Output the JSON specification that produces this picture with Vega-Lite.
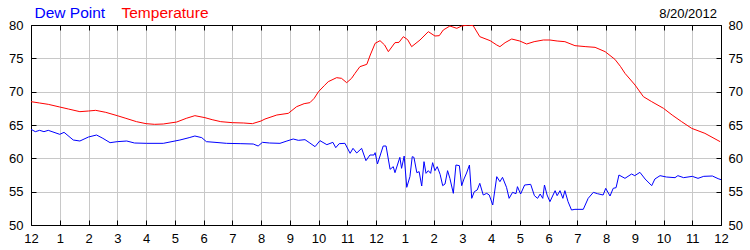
{
  "$schema": "https://vega.github.io/schema/vega-lite/v6.json",
  "width": 690,
  "height": 200,
  "autosize": "none",
  "padding": {"left": 31, "top": 25, "right": 29, "bottom": 25},
  "background": "white",
  "config": {
    "view": {"stroke": null},
    "font": "Liberation Sans",
    "axis": {
      "domainColor": "#000000",
      "domainWidth": 1,
      "tickColor": "#000000",
      "tickSize": -5,
      "tickWidth": 1,
      "labelColor": "#000000",
      "labelFont": "Liberation Sans",
      "labelFontSize": 13,
      "gridColor": "#c8c8c8",
      "gridWidth": 1,
      "gridOpacity": 1,
      "title": null
    },
    "legend": {
      "orient": "none",
      "legendX": -12,
      "legendY": -20,
      "direction": "horizontal",
      "symbolSize": 0,
      "symbolStrokeWidth": 0,
      "symbolOpacity": 0,
      "labelOffset": 0,
      "labelFontSize": 15.5,
      "labelFont": "Liberation Sans",
      "columnPadding": 0,
      "padding": 0,
      "labelLimit": 0
    }
  },
  "title": {
    "text": "8/20/2012",
    "anchor": "end",
    "frame": "group",
    "fontSize": 13,
    "fontWeight": "normal",
    "font": "Liberation Sans",
    "color": "#000000",
    "baseline": "alphabetic",
    "offset": 8,
    "dx": -4,
    "dy": 34
  },
  "data": {
    "values": [
      {"h": 0.0, "series": "Temperature", "v": 68.5},
      {"h": 0.3, "series": "Temperature", "v": 68.3},
      {"h": 0.6, "series": "Temperature", "v": 68.1},
      {"h": 1.0, "series": "Temperature", "v": 67.7},
      {"h": 1.3, "series": "Temperature", "v": 67.4},
      {"h": 1.7, "series": "Temperature", "v": 67.0},
      {"h": 2.0, "series": "Temperature", "v": 67.1},
      {"h": 2.25, "series": "Temperature", "v": 67.2},
      {"h": 2.6, "series": "Temperature", "v": 66.9},
      {"h": 3.0, "series": "Temperature", "v": 66.4},
      {"h": 3.3, "series": "Temperature", "v": 66.0},
      {"h": 3.67, "series": "Temperature", "v": 65.5},
      {"h": 4.0, "series": "Temperature", "v": 65.2},
      {"h": 4.3, "series": "Temperature", "v": 65.1},
      {"h": 4.6, "series": "Temperature", "v": 65.15},
      {"h": 5.07, "series": "Temperature", "v": 65.45},
      {"h": 5.4, "series": "Temperature", "v": 66.0},
      {"h": 5.7, "series": "Temperature", "v": 66.4},
      {"h": 6.05, "series": "Temperature", "v": 66.1},
      {"h": 6.3, "series": "Temperature", "v": 65.8},
      {"h": 6.6, "series": "Temperature", "v": 65.5},
      {"h": 7.0, "series": "Temperature", "v": 65.35},
      {"h": 7.4, "series": "Temperature", "v": 65.3},
      {"h": 7.7, "series": "Temperature", "v": 65.2},
      {"h": 8.0, "series": "Temperature", "v": 65.6},
      {"h": 8.14, "series": "Temperature", "v": 65.9},
      {"h": 8.55, "series": "Temperature", "v": 66.5},
      {"h": 8.95, "series": "Temperature", "v": 66.75},
      {"h": 9.24, "series": "Temperature", "v": 67.75},
      {"h": 9.5, "series": "Temperature", "v": 68.2},
      {"h": 9.7, "series": "Temperature", "v": 68.35},
      {"h": 9.85, "series": "Temperature", "v": 69.0},
      {"h": 10.0, "series": "Temperature", "v": 70.0},
      {"h": 10.2, "series": "Temperature", "v": 70.9},
      {"h": 10.34, "series": "Temperature", "v": 71.5},
      {"h": 10.63, "series": "Temperature", "v": 72.1},
      {"h": 10.8, "series": "Temperature", "v": 72.0},
      {"h": 10.98, "series": "Temperature", "v": 71.35},
      {"h": 11.15, "series": "Temperature", "v": 72.0},
      {"h": 11.27, "series": "Temperature", "v": 72.75},
      {"h": 11.44, "series": "Temperature", "v": 73.75},
      {"h": 11.68, "series": "Temperature", "v": 74.1},
      {"h": 11.8, "series": "Temperature", "v": 75.5},
      {"h": 11.97, "series": "Temperature", "v": 77.25},
      {"h": 12.14, "series": "Temperature", "v": 77.65},
      {"h": 12.3, "series": "Temperature", "v": 77.0},
      {"h": 12.43, "series": "Temperature", "v": 76.0},
      {"h": 12.66, "series": "Temperature", "v": 77.35},
      {"h": 12.8, "series": "Temperature", "v": 77.4},
      {"h": 12.95, "series": "Temperature", "v": 78.25},
      {"h": 13.1, "series": "Temperature", "v": 77.8},
      {"h": 13.24, "series": "Temperature", "v": 76.75},
      {"h": 13.53, "series": "Temperature", "v": 77.75},
      {"h": 13.82, "series": "Temperature", "v": 79.0},
      {"h": 14.05, "series": "Temperature", "v": 78.35},
      {"h": 14.2, "series": "Temperature", "v": 78.4},
      {"h": 14.34, "series": "Temperature", "v": 79.25},
      {"h": 14.57, "series": "Temperature", "v": 79.85},
      {"h": 14.81, "series": "Temperature", "v": 79.5},
      {"h": 14.98, "series": "Temperature", "v": 79.85},
      {"h": 15.2, "series": "Temperature", "v": 80.0},
      {"h": 15.38, "series": "Temperature", "v": 79.9},
      {"h": 15.61, "series": "Temperature", "v": 78.25},
      {"h": 15.97, "series": "Temperature", "v": 77.65},
      {"h": 16.2, "series": "Temperature", "v": 77.0},
      {"h": 16.31, "series": "Temperature", "v": 76.75},
      {"h": 16.49, "series": "Temperature", "v": 77.35},
      {"h": 16.72, "series": "Temperature", "v": 77.9},
      {"h": 17.0, "series": "Temperature", "v": 77.6},
      {"h": 17.24, "series": "Temperature", "v": 77.15},
      {"h": 17.5, "series": "Temperature", "v": 77.5},
      {"h": 17.82, "series": "Temperature", "v": 77.75},
      {"h": 18.05, "series": "Temperature", "v": 77.75},
      {"h": 18.3, "series": "Temperature", "v": 77.6},
      {"h": 18.57, "series": "Temperature", "v": 77.5},
      {"h": 18.92, "series": "Temperature", "v": 76.9},
      {"h": 19.3, "series": "Temperature", "v": 76.75},
      {"h": 19.62, "series": "Temperature", "v": 76.65},
      {"h": 19.97, "series": "Temperature", "v": 76.0},
      {"h": 20.31, "series": "Temperature", "v": 74.85},
      {"h": 20.5, "series": "Temperature", "v": 73.8},
      {"h": 20.66, "series": "Temperature", "v": 72.75},
      {"h": 21.01, "series": "Temperature", "v": 71.0},
      {"h": 21.3, "series": "Temperature", "v": 69.25},
      {"h": 21.59, "series": "Temperature", "v": 68.5},
      {"h": 22.0, "series": "Temperature", "v": 67.5},
      {"h": 22.3, "series": "Temperature", "v": 66.5},
      {"h": 22.63, "series": "Temperature", "v": 65.5},
      {"h": 22.98, "series": "Temperature", "v": 64.5},
      {"h": 23.44, "series": "Temperature", "v": 63.75},
      {"h": 23.97, "series": "Temperature", "v": 62.5},
      {"h": 0.0, "series": "Dew Point", "v": 64.35},
      {"h": 0.15, "series": "Dew Point", "v": 64.0},
      {"h": 0.3, "series": "Dew Point", "v": 64.2},
      {"h": 0.45, "series": "Dew Point", "v": 64.0},
      {"h": 0.6, "series": "Dew Point", "v": 64.2},
      {"h": 0.8, "series": "Dew Point", "v": 63.9},
      {"h": 1.0, "series": "Dew Point", "v": 63.6},
      {"h": 1.15, "series": "Dew Point", "v": 63.9},
      {"h": 1.47, "series": "Dew Point", "v": 62.75},
      {"h": 1.7, "series": "Dew Point", "v": 62.6},
      {"h": 2.0, "series": "Dew Point", "v": 63.2},
      {"h": 2.28, "series": "Dew Point", "v": 63.5},
      {"h": 2.5, "series": "Dew Point", "v": 63.0},
      {"h": 2.75, "series": "Dew Point", "v": 62.35},
      {"h": 3.0, "series": "Dew Point", "v": 62.5},
      {"h": 3.33, "series": "Dew Point", "v": 62.6},
      {"h": 3.6, "series": "Dew Point", "v": 62.3},
      {"h": 4.02, "series": "Dew Point", "v": 62.25},
      {"h": 4.6, "series": "Dew Point", "v": 62.25},
      {"h": 5.18, "series": "Dew Point", "v": 62.75},
      {"h": 5.5, "series": "Dew Point", "v": 63.1},
      {"h": 5.7, "series": "Dew Point", "v": 63.35},
      {"h": 5.94, "series": "Dew Point", "v": 63.1},
      {"h": 6.1, "series": "Dew Point", "v": 62.5},
      {"h": 6.4, "series": "Dew Point", "v": 62.4},
      {"h": 6.8, "series": "Dew Point", "v": 62.25},
      {"h": 7.3, "series": "Dew Point", "v": 62.2},
      {"h": 7.73, "series": "Dew Point", "v": 62.15},
      {"h": 7.9, "series": "Dew Point", "v": 61.85},
      {"h": 8.05, "series": "Dew Point", "v": 62.4},
      {"h": 8.3, "series": "Dew Point", "v": 62.3},
      {"h": 8.66, "series": "Dew Point", "v": 62.25},
      {"h": 8.9, "series": "Dew Point", "v": 62.6},
      {"h": 9.12, "series": "Dew Point", "v": 62.9},
      {"h": 9.3, "series": "Dew Point", "v": 62.7},
      {"h": 9.53, "series": "Dew Point", "v": 62.8},
      {"h": 9.7, "series": "Dew Point", "v": 62.3},
      {"h": 9.88, "series": "Dew Point", "v": 61.75},
      {"h": 10.05, "series": "Dew Point", "v": 62.65},
      {"h": 10.29, "series": "Dew Point", "v": 62.05},
      {"h": 10.5, "series": "Dew Point", "v": 62.4},
      {"h": 10.6, "series": "Dew Point", "v": 61.6},
      {"h": 10.72, "series": "Dew Point", "v": 62.2},
      {"h": 10.92, "series": "Dew Point", "v": 62.25},
      {"h": 11.1, "series": "Dew Point", "v": 60.75},
      {"h": 11.2, "series": "Dew Point", "v": 61.5},
      {"h": 11.33, "series": "Dew Point", "v": 60.8},
      {"h": 11.5, "series": "Dew Point", "v": 61.5},
      {"h": 11.65, "series": "Dew Point", "v": 59.65},
      {"h": 11.79, "series": "Dew Point", "v": 60.5},
      {"h": 11.93, "series": "Dew Point", "v": 60.5},
      {"h": 11.97, "series": "Dew Point", "v": 60.85},
      {"h": 12.05, "series": "Dew Point", "v": 59.15},
      {"h": 12.25, "series": "Dew Point", "v": 61.85},
      {"h": 12.35, "series": "Dew Point", "v": 61.85},
      {"h": 12.49, "series": "Dew Point", "v": 58.35},
      {"h": 12.6, "series": "Dew Point", "v": 58.75},
      {"h": 12.66, "series": "Dew Point", "v": 57.85},
      {"h": 12.83, "series": "Dew Point", "v": 60.15},
      {"h": 12.89, "series": "Dew Point", "v": 58.5},
      {"h": 12.98, "series": "Dew Point", "v": 60.35},
      {"h": 13.07, "series": "Dew Point", "v": 55.65},
      {"h": 13.18, "series": "Dew Point", "v": 57.25},
      {"h": 13.26, "series": "Dew Point", "v": 60.25},
      {"h": 13.32, "series": "Dew Point", "v": 60.15},
      {"h": 13.42, "series": "Dew Point", "v": 57.85},
      {"h": 13.5, "series": "Dew Point", "v": 58.0},
      {"h": 13.59, "series": "Dew Point", "v": 55.85},
      {"h": 13.67, "series": "Dew Point", "v": 59.5},
      {"h": 13.74, "series": "Dew Point", "v": 57.75},
      {"h": 13.82, "series": "Dew Point", "v": 58.15},
      {"h": 13.9, "series": "Dew Point", "v": 57.75},
      {"h": 13.97, "series": "Dew Point", "v": 59.35},
      {"h": 14.05, "series": "Dew Point", "v": 58.15},
      {"h": 14.13, "series": "Dew Point", "v": 58.75},
      {"h": 14.23, "series": "Dew Point", "v": 57.6},
      {"h": 14.32, "series": "Dew Point", "v": 55.9},
      {"h": 14.4, "series": "Dew Point", "v": 56.15},
      {"h": 14.49, "series": "Dew Point", "v": 58.15},
      {"h": 14.57, "series": "Dew Point", "v": 57.0},
      {"h": 14.69, "series": "Dew Point", "v": 54.75},
      {"h": 14.78, "series": "Dew Point", "v": 59.0},
      {"h": 14.9, "series": "Dew Point", "v": 58.9},
      {"h": 14.98, "series": "Dew Point", "v": 55.9},
      {"h": 15.06, "series": "Dew Point", "v": 56.9},
      {"h": 15.15, "series": "Dew Point", "v": 57.8},
      {"h": 15.25, "series": "Dew Point", "v": 59.0},
      {"h": 15.33, "series": "Dew Point", "v": 54.0},
      {"h": 15.42, "series": "Dew Point", "v": 55.0},
      {"h": 15.52, "series": "Dew Point", "v": 55.25},
      {"h": 15.61, "series": "Dew Point", "v": 56.25},
      {"h": 15.73, "series": "Dew Point", "v": 54.5},
      {"h": 15.85, "series": "Dew Point", "v": 54.75},
      {"h": 15.94, "series": "Dew Point", "v": 54.5},
      {"h": 16.06, "series": "Dew Point", "v": 53.0},
      {"h": 16.2, "series": "Dew Point", "v": 57.25},
      {"h": 16.31, "series": "Dew Point", "v": 56.5},
      {"h": 16.4, "series": "Dew Point", "v": 57.15},
      {"h": 16.54, "series": "Dew Point", "v": 55.65},
      {"h": 16.63, "series": "Dew Point", "v": 54.0},
      {"h": 16.75, "series": "Dew Point", "v": 54.9},
      {"h": 16.87, "series": "Dew Point", "v": 54.7},
      {"h": 16.92, "series": "Dew Point", "v": 55.75},
      {"h": 17.03, "series": "Dew Point", "v": 54.65},
      {"h": 17.17, "series": "Dew Point", "v": 56.0},
      {"h": 17.38, "series": "Dew Point", "v": 56.1},
      {"h": 17.51, "series": "Dew Point", "v": 54.4},
      {"h": 17.62, "series": "Dew Point", "v": 54.0},
      {"h": 17.71, "series": "Dew Point", "v": 54.65},
      {"h": 17.8, "series": "Dew Point", "v": 54.0},
      {"h": 17.86, "series": "Dew Point", "v": 56.0},
      {"h": 17.95, "series": "Dew Point", "v": 54.5},
      {"h": 18.05, "series": "Dew Point", "v": 53.5},
      {"h": 18.23, "series": "Dew Point", "v": 55.15},
      {"h": 18.3, "series": "Dew Point", "v": 54.4},
      {"h": 18.4, "series": "Dew Point", "v": 55.15},
      {"h": 18.5, "series": "Dew Point", "v": 54.0},
      {"h": 18.57, "series": "Dew Point", "v": 55.15},
      {"h": 18.68, "series": "Dew Point", "v": 53.5},
      {"h": 18.8, "series": "Dew Point", "v": 52.25},
      {"h": 18.92, "series": "Dew Point", "v": 52.35},
      {"h": 19.21, "series": "Dew Point", "v": 52.35},
      {"h": 19.38, "series": "Dew Point", "v": 54.0},
      {"h": 19.56, "series": "Dew Point", "v": 54.9},
      {"h": 19.7, "series": "Dew Point", "v": 54.7},
      {"h": 19.9, "series": "Dew Point", "v": 54.5},
      {"h": 19.99, "series": "Dew Point", "v": 55.5},
      {"h": 20.14, "series": "Dew Point", "v": 54.35},
      {"h": 20.25, "series": "Dew Point", "v": 55.5},
      {"h": 20.35, "series": "Dew Point", "v": 55.6},
      {"h": 20.45, "series": "Dew Point", "v": 57.5},
      {"h": 20.66, "series": "Dew Point", "v": 57.0},
      {"h": 20.89, "series": "Dew Point", "v": 57.65},
      {"h": 21.0, "series": "Dew Point", "v": 57.4},
      {"h": 21.18, "series": "Dew Point", "v": 57.9},
      {"h": 21.36, "series": "Dew Point", "v": 56.9},
      {"h": 21.59, "series": "Dew Point", "v": 55.9},
      {"h": 21.7, "series": "Dew Point", "v": 56.9},
      {"h": 21.88, "series": "Dew Point", "v": 57.4},
      {"h": 22.1, "series": "Dew Point", "v": 57.2},
      {"h": 22.4, "series": "Dew Point", "v": 57.1},
      {"h": 22.5, "series": "Dew Point", "v": 57.4},
      {"h": 22.7, "series": "Dew Point", "v": 57.1},
      {"h": 23.0, "series": "Dew Point", "v": 57.3},
      {"h": 23.2, "series": "Dew Point", "v": 57.0},
      {"h": 23.4, "series": "Dew Point", "v": 57.3},
      {"h": 23.7, "series": "Dew Point", "v": 57.35},
      {"h": 23.9, "series": "Dew Point", "v": 56.95},
      {"h": 24.0, "series": "Dew Point", "v": 56.8}
    ]
  },
  "layer": [
    {
      "transform": [{"filter": "datum.series == 'Dew Point'"}],
      "mark": {"type": "line", "strokeWidth": 1, "clip": true},
      "encoding": {
        "x": {
          "field": "h", "type": "quantitative",
          "scale": {"domain": [0, 24], "nice": false, "zero": false},
          "axis": {
            "orient": "bottom",
            "values": [0,1,2,3,4,5,6,7,8,9,10,11,12,13,14,15,16,17,18,19,20,21,22,23,24],
            "labelExpr": "datum.value % 12 == 0 ? '12' : '' + (datum.value % 12)",
            "labelPadding": 12,
            "labelFlush": false,
            "labelOverlap": false,
            "grid": true
          }
        },
        "y": {
          "field": "v", "type": "quantitative",
          "scale": {"domain": [50, 80], "nice": false, "zero": false},
          "axis": {
            "orient": "left",
            "values": [50, 55, 60, 65, 70, 75, 80],
            "labelPadding": 13,
            "labelFlush": false,
            "grid": true
          }
        },
        "color": {
          "field": "series", "type": "nominal",
          "scale": {"domain": ["Dew Point", "Temperature"], "range": ["#0000ff", "#ff0000"]},
          "legend": {
            "title": null,
            "encode": {"labels": {"update": {"fill": {"scale": "color", "field": "value"}}}}
          }
        }
      }
    },
    {
      "transform": [{"filter": "datum.series == 'Temperature'"}],
      "mark": {"type": "line", "strokeWidth": 1, "clip": true},
      "encoding": {
        "x": {
          "field": "h", "type": "quantitative",
          "scale": {"domain": [0, 24], "nice": false, "zero": false},
          "axis": {
            "orient": "top",
            "values": [0,1,2,3,4,5,6,7,8,9,10,11,12,13,14,15,16,17,18,19,20,21,22,23,24],
            "labels": false,
            "grid": false
          }
        },
        "y": {
          "field": "v", "type": "quantitative",
          "scale": {"domain": [50, 80], "nice": false, "zero": false},
          "axis": {
            "orient": "right",
            "values": [50, 55, 60, 65, 70, 75, 80],
            "labelPadding": 12,
            "labelFlush": false,
            "grid": false
          }
        },
        "color": {
          "field": "series", "type": "nominal",
          "scale": {"domain": ["Dew Point", "Temperature"], "range": ["#0000ff", "#ff0000"]},
          "legend": {
            "title": null,
            "encode": {"labels": {"update": {"fill": {"scale": "color", "field": "value"}}}}
          }
        }
      }
    }
  ],
  "resolve": {"axis": {"x": "independent", "y": "independent"}}
}
